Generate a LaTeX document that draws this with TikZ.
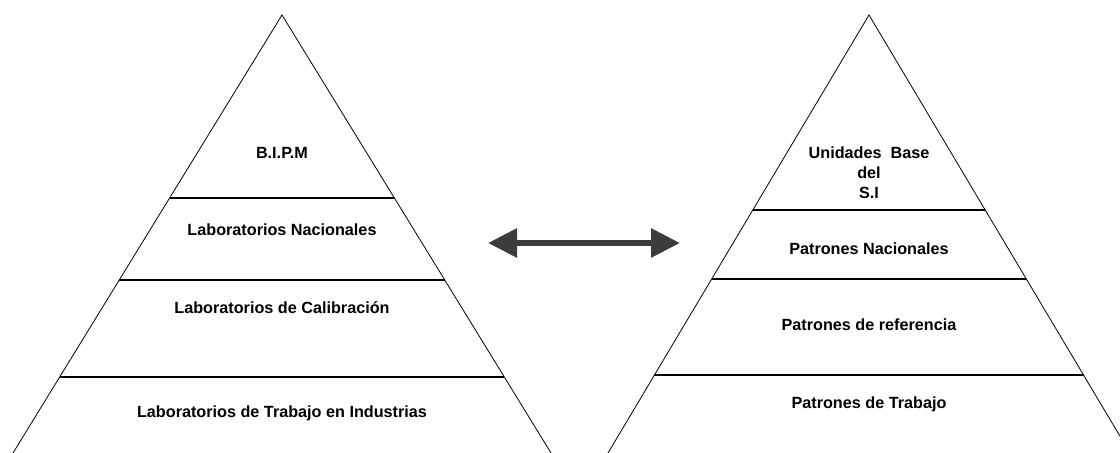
\documentclass[tikz,border=0pt]{standalone}
\usepackage{fontspec}
\setmainfont{Liberation Sans}
\usetikzlibrary{calc,arrows.meta}
\definecolor{arrowgray}{RGB}{60,60,60}
\begin{document}
\begin{tikzpicture}[x=1bp,y=-1bp,
  edge/.style={line width=0.8bp,black},
  level/.style={line width=2.4bp,black},
  label/.style={font=\fontsize{16.2bp}{20bp}\selectfont\bfseries,align=center,inner sep=0pt},
  link/.style={line width=6bp,arrowgray,{Triangle[length=29bp,width=28bp]}-{Triangle[length=29bp,width=28bp]}}]
\useasboundingbox (0,0) rectangle (1120,453);
\clip (0,0) rectangle (1120,453);

% left pyramid
\coordinate (LA) at (282,15);
\coordinate (LB) at (13,453);
\coordinate (LC) at (551,453);
\draw[edge] (LB) -- (LA) -- (LC);
\draw[level] ($(LA)!0.4178!(LB)$) -- ($(LA)!0.4178!(LC)$);
\draw[level] ($(LA)!0.6050!(LB)$) -- ($(LA)!0.6050!(LC)$);
\draw[level] ($(LA)!0.8265!(LB)$) -- ($(LA)!0.8265!(LC)$);
\node[label] (bipm) at (282,153) {B.I.P.M};
\node[label] (labnac) at (282,230) {Laboratorios Nacionales};
\node[label] (labcal) at (282,308) {Laboratorios de Calibración};
\node[label] (labtra) at (282,413) {Laboratorios de Trabajo en Industrias};

% right pyramid
\coordinate (RA) at (869,15);
\coordinate (RB) at (608,453);
\coordinate (RC) at (1130,453);
\draw[edge] (RB) -- (RA) -- (RC);
\draw[level] ($(RA)!0.4452!(RB)$) -- ($(RA)!0.4452!(RC)$);
\draw[level] ($(RA)!0.6027!(RB)$) -- ($(RA)!0.6027!(RC)$);
\draw[level] ($(RA)!0.8219!(RB)$) -- ($(RA)!0.8219!(RC)$);
\node[label] (unid) at (869,173) {Unidades\ \ Base\\del\\S.I};
\node[label] (patnac) at (869,249) {Patrones Nacionales};
\node[label] (patref) at (869,325) {Patrones de referencia};
\node[label] (pattra) at (869,404) {Patrones de Trabajo};

% two-way arrow between the pyramids
\coordinate (al) at (488,243);
\coordinate (ar) at (680,243);
\draw[link] (al) -- (ar);
\end{tikzpicture}
\end{document}
